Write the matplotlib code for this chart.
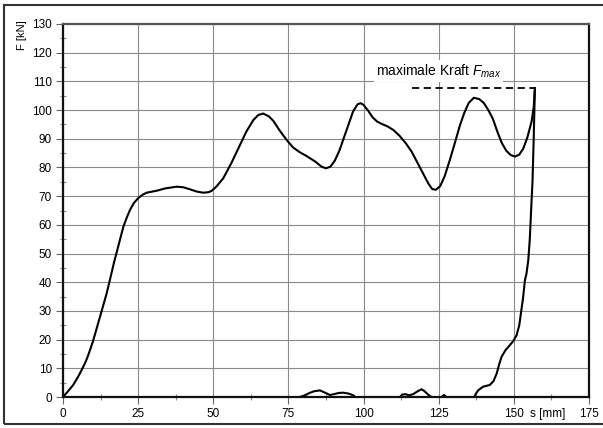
import matplotlib
matplotlib.use("Agg")
import matplotlib.pyplot as plt
from matplotlib.patches import Rectangle

plt.rcParams['font.family'] = ['Liberation Sans', 'DejaVu Sans']
plt.rcParams['mathtext.fontset'] = 'custom'
plt.rcParams['mathtext.it'] = 'Liberation Sans:italic'
plt.rcParams['mathtext.rm'] = 'Liberation Sans'

# main loading curve s [mm], F [kN]
s_main = [0, 1.5, 3.4, 5, 6.2, 7.5, 8.4, 10, 11.5, 13, 14.5, 15.6, 17, 18.5, 20.1, 21.2,
          22.3, 23.5, 25, 26.5, 27.8, 31.2, 34, 37.8, 40, 42.2, 44.5, 46.7, 48.5, 49.5,
          51, 53.3, 56, 58.5, 61, 63.3, 65, 66.6, 68.5, 70, 72, 74.4, 76.5, 78.8, 81,
          84, 86, 87.5, 89, 90.5, 92, 93.5, 95, 96.5, 98, 99, 100, 101.5, 103, 104.5,
          106, 108, 110, 112, 114, 116, 118, 120, 121.5, 122.8, 124, 125.5, 127, 128.7,
          130.5, 132, 133.5, 135, 136.7, 138.5, 140, 141.5, 143, 144.5, 146, 147.5,
          149, 150.4, 151.8, 153.1, 154.5, 155.9, 156.6, 157.0]
F_main = [0, 1.8, 4.2, 7, 9.4, 12.2, 14.6, 19.5, 25, 30.5, 36, 40.8, 47, 53, 59.4, 62.5,
          65.2, 67.5, 69.3, 70.5, 71.2, 71.9, 72.7, 73.3, 73.1, 72.4, 71.6, 71.2, 71.4, 71.9,
          73.3, 76.2, 81.5, 87, 92.5, 96.5, 98.3, 98.8, 97.8, 96.2, 93, 89.6, 87, 85.3, 84,
          82, 80.3, 79.7, 80.3, 82.5, 86, 90.5, 95, 99.5, 102, 102.4, 101.8, 99.8, 97.5, 96,
          95.2, 94.3, 93, 91, 88.5, 85.5, 81.5, 77.5, 74.5, 72.5, 72.2, 73.5, 77, 82.6,
          89, 94.5, 99, 102.5, 104.3, 103.8, 102.5, 100, 97, 92.5, 88.5, 85.8,
          84.3, 83.8, 84.5, 86.5, 90.5, 96, 101, 107.6]

# unloading (spring back)
s_back = [157.0, 156.6, 156.2, 155.9, 155.3, 154.8, 154.2, 153.7, 153.0, 152.5, 151.8,
          150.9, 149.8, 148.7, 147.2, 145.9, 145.0, 144.3, 143.2, 142.0, 139.8, 138.2,
          137.4, 136.8]
F_back = [107.6, 90, 75, 68.6, 55, 47.7, 43, 40.8, 34, 30.3, 25,
          21.5, 19.5, 18.1, 16.3, 14.0, 11.0, 8.2, 5.5, 4.2, 3.6, 2.4,
          1.2, 0.0]

# small residual bumps near zero
s_b1 = [78.8, 80.5, 82.0, 83.5, 85.5, 87.0, 88.8, 90.2, 91.7, 93.2, 95.0, 96.6, 97.2]
F_b1 = [0.0, 0.6, 1.4, 2.0, 2.3, 1.6, 0.7, 1.0, 1.4, 1.5, 1.2, 0.6, 0.0]
s_b2 = [112.1, 112.8, 113.8, 115.2, 116.5, 118.0, 119.3, 120.3, 121.5, 122.6]
F_b2 = [0.0, 0.8, 1.0, 0.6, 1.0, 2.0, 2.7, 2.0, 0.8, 0.0]
s_b3 = [126.0, 126.7, 127.6]
F_b3 = [0.0, 0.7, 0.0]

F_max = 107.6
s_dash_start = 116.0

fig = plt.figure(figsize=(6.03, 4.28), dpi=100)
ax = fig.add_axes([63/603, 31/428, 526/603, 373/428])

ax.set_xlim(0, 175)
ax.set_ylim(0, 130)
ax.set_xticks(range(0, 176, 25))
ax.set_xticks([12.5 + 25*i for i in range(7)], minor=True)
ax.set_yticks(range(0, 131, 10))
ax.set_yticks([5 + 10*i for i in range(13)], minor=True)
ax.grid(True, which='major', color='#8a8a8a', linewidth=0.8)
for gl in ax.get_xgridlines():
    if abs(gl.get_xdata()[0] - 50) < 1e-6:
        gl.set_color('#cccccc'); gl.set_linewidth(1.6)
for gl in ax.get_ygridlines():
    if abs(gl.get_ydata()[0] - 70) < 1e-6:
        gl.set_color('#d8d8d8'); gl.set_linewidth(1.6)
ax.set_axisbelow(True)
ax.tick_params(which='major', direction='out', length=5, width=0.8, color='#666666',
               labelsize=8.5, pad=3)
ax.tick_params(which='minor', direction='inout', length=4, width=0.8, color='#888888')
for side in ['left', 'bottom', 'right']:
    ax.spines[side].set_linewidth(1.6)
    ax.spines[side].set_color('#111111')
ax.spines['top'].set_linewidth(1.6)
ax.spines['top'].set_color('#555555')

lw = 1.5
ax.plot(s_main, F_main, color='black', lw=lw, solid_joinstyle='round')
ax.plot(s_back, F_back, color='black', lw=lw, solid_joinstyle='round')
ax.plot(s_b1, F_b1, color='black', lw=lw, solid_joinstyle='round')
ax.plot(s_b2, F_b2, color='black', lw=lw, solid_joinstyle='round')
ax.plot(s_b3, F_b3, color='black', lw=lw, solid_joinstyle='round')
ax.plot([s_dash_start, 157.0], [F_max, F_max], color='black', lw=1.3, ls=(0, (4, 2.5)))

ax.text(104, 110.5, r'maximale Kraft $F_{max}$', fontsize=10, ha='left', va='bottom',
        bbox=dict(facecolor='white', edgecolor='none', pad=1.5))

fig.text(22/603, 1 - 35/428, 'F [kN]', rotation=90, fontsize=8, ha='center', va='center')
fig.text(548/603, 1 - 414/428, 's [mm]', fontsize=8.5, ha='center', va='center')

fig.add_artist(Rectangle((4/603, 4/428), 1.2, 1 - 9/428, transform=fig.transFigure,
                         fill=False, edgecolor='#333333', linewidth=1.5))

fig.savefig('out.png', dpi=100)
